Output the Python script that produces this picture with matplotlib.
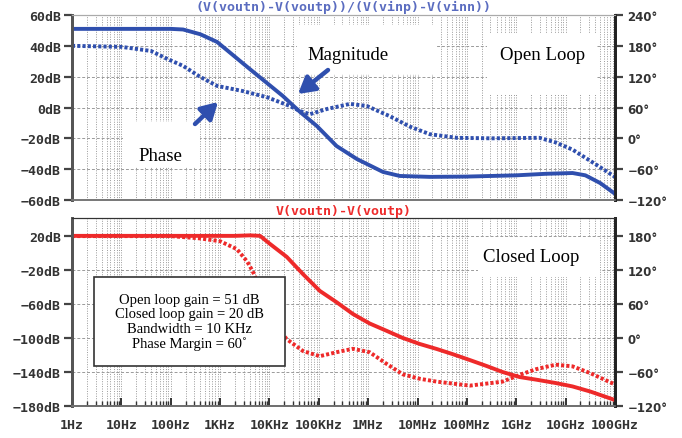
import numpy as np
import matplotlib
matplotlib.use("Agg")
import matplotlib.pyplot as plt
from matplotlib.patches import Rectangle
from matplotlib.ticker import LogLocator, NullFormatter

# frequencies are given as log10(Hz)
ol_mag_dec = [0, 1, 2.0, 2.25, 2.6, 2.94, 3.6, 4.27, 4.62, 4.96, 5.36, 5.77, 6.3, 6.64,
              7.25, 8, 9, 9.6, 10.14, 10.4, 10.7, 11]
ol_mag_db = [51, 51, 51, 50.6, 47.5, 42.5, 25, 7.5, -2.9, -12, -25, -33.4, -41.8, -44.4,
             -45, -44.8, -44, -43, -42.5, -44, -49, -56]

ol_ph_dec = [0, 1.0, 1.23, 1.6, 1.92, 2.25, 2.59, 2.94, 3.46, 3.95, 4.41, 4.62, 4.82,
             5.16, 5.63, 5.97, 6.44, 6.84, 7.25, 7.8, 8.5, 9.47, 9.8, 10.14, 10.6, 11]
ol_ph_deg = [180, 178, 175, 170, 155, 141, 120, 102, 92, 80, 63, 53, 47,
             57, 67, 63, 43, 23, 8, 1, 0, 1, -8, -22, -50, -75]

cl_mag_dec = [0, 2, 3.3, 3.6, 3.81, 4.0, 4.35, 4.68, 5.02, 5.36, 5.69, 6.03, 6.38, 6.7,
              7.04, 7.39, 7.71, 8.06, 8.4, 8.72, 9.07, 9.4, 9.8, 10.14, 10.5, 11]
cl_mag_db = [20, 20, 20, 20.6, 20, 11, -4.7, -25, -44.7, -58, -71.8, -83, -91.8, -100,
             -107, -113, -119, -126, -133, -140, -146, -149, -153, -157, -163, -173]

cl_ph_dec = [0, 2, 2.59, 3.0, 3.34, 3.55, 3.66, 3.9, 4.1, 4.35, 4.68, 5.02, 5.36, 5.69,
             6.03, 6.38, 6.7, 7.05, 7.39, 8.06, 8.72, 9.1, 9.4, 9.8, 10.14, 10.5, 11]
cl_ph_deg = [180, 180, 176, 171, 157, 135, 118, 70, 25, -2, -23, -32, -25, -19,
             -25, -46, -64, -72, -77, -84, -77, -64, -55, -47, -50, -62, -82]

x_ticks = [1, 10, 100, 1e3, 1e4, 1e5, 1e6, 1e7, 1e8, 1e9, 1e10, 1e11]
x_labels = ["1Hz", "10Hz", "100Hz", "1KHz", "10KHz", "100KHz",
            "1MHz", "10MHz", "100MHz", "1GHz", "10GHz", "100GHz"]
top_db_ticks = [60, 40, 20, 0, -20, -40, -60]
top_deg_ticks = [240, 180, 120, 60, 0, -60, -120]
bot_db_ticks = [20, -20, -60, -100, -140, -180]
bot_deg_ticks = [180, 120, 60, 0, -60, -120]

blue = "#2f4fae"
red = "#ee2a2a"
W, H = 682, 439

fig = plt.figure(figsize=(W / 100, H / 100), dpi=100)


def frac(x0, y0, x1, y1):
    # pixel box (top-left origin) -> figure fraction rect
    return [x0 / W, 1 - y1 / H, (x1 - x0) / W, (y1 - y0) / H]


ax1 = fig.add_axes(frac(72, 16, 615, 201))
ax2 = fig.add_axes(frac(72, 219, 615, 407))
ax1r = ax1.twinx()
ax2r = ax2.twinx()

mono = dict(family="DejaVu Sans Mono", weight="bold", size=9.5, color="#333333")
sans = dict(family="DejaVu Sans", weight="bold", size=8.5, color="#333333")
serif = "Liberation Serif"

for ax, axr, dbt, dgt, ylim, ylimr in [
    (ax1, ax1r, top_db_ticks, top_deg_ticks, (-60, 60), (-120, 240)),
    (ax2, ax2r, bot_db_ticks, bot_deg_ticks, (-180, 41), (-120, 212)),
]:
    ax.set_xscale("log")
    ax.set_xlim(1, 1e11)
    ax.set_ylim(*ylim)
    axr.set_ylim(*ylimr)
    ax.set_xticks(x_ticks)
    ax.xaxis.set_minor_locator(LogLocator(base=10, subs=range(2, 10), numticks=30))
    ax.xaxis.set_minor_formatter(NullFormatter())
    ax.set_yticks(dbt)
    ax.set_yticklabels([f"{v}dB".replace("-", "\u2212") for v in dbt], fontdict=mono)
    axr.set_yticks(dgt)
    axr.set_yticklabels([f"{v}\u00b0".replace("-", "\u2212") for v in dgt], fontdict=sans)
    ax.set_axisbelow(True)
    ax.grid(which="major", axis="y", ls=(0, (3, 2)), color="#9a9a9a", lw=0.7)
    ax.grid(which="both", axis="x", ls=(0, (1, 1.5)), color="#9a9a9a", lw=0.7)
    ax.tick_params(axis="y", direction="out", length=6, width=1.6, color="#444444", pad=2)
    axr.tick_params(axis="y", direction="out", length=6, width=1.6, color="#444444", pad=3)
    for a in (ax, axr):
        a.spines["left"].set_linewidth(2)
        a.spines["left"].set_color("#555555")
        a.spines["right"].set_linewidth(2)
        a.spines["right"].set_color("#222222")
        a.spines["top"].set_color("#aaaaaa")
        a.spines["bottom"].set_color("#777777")
        a.spines["bottom"].set_linewidth(1.2)

ax1.tick_params(axis="x", which="both", bottom=False, labelbottom=False)
ax2.tick_params(axis="x", which="major", direction="in", length=6, width=1.4,
                color="#333333", pad=9)
ax2.tick_params(axis="x", which="minor", direction="in", length=3.5, width=1.0,
                color="#333333")
ax2.set_xticklabels(x_labels, fontdict=mono)
ax2.spines["top"].set_color("#333333")
ax2r.spines["top"].set_color("#333333")
ax2.spines["bottom"].set_color("#333333")

# white patches behind the hand-added labels
for (x0, y0, x1, y1), ax in [((297, 26, 437, 75), ax1), ((487, 35, 597, 95), ax1),
                             ((123, 123, 200, 168), ax1), ((478, 238, 600, 278), ax2)]:
    ax.add_patch(Rectangle((x0 / W, 1 - y1 / H), (x1 - x0) / W, (y1 - y0) / H,
                           transform=fig.transFigure, facecolor="white",
                           edgecolor="none", zorder=1))

dots = (0, (0.8, 0.55))
ax1.plot(np.power(10.0, ol_mag_dec), ol_mag_db, color=blue, lw=2.8, zorder=3)
ax1r.plot(np.power(10.0, ol_ph_dec), ol_ph_deg, color=blue, lw=2.8, ls=dots)
ax2.plot(np.power(10.0, cl_mag_dec), cl_mag_db, color=red, lw=2.8, zorder=3)
ax2r.plot(np.power(10.0, cl_ph_dec), cl_ph_deg, color=red, lw=2.8, ls=dots)

fig.text(343.5 / W, 1 - 7 / H, "(V(voutn)-V(voutp))/(V(vinp)-V(vinn))",
         ha="center", va="center", family="DejaVu Sans Mono", weight="bold",
         size=9.5, color="#5a6cc0")
fig.text(343.5 / W, 1 - 211 / H, "V(voutn)-V(voutp)", ha="center", va="center",
         family="DejaVu Sans Mono", weight="bold", size=9.5, color=red)

fig.text(348 / W, 1 - 55 / H, "Magnitude", ha="center", va="center", family=serif, size=13.5)
fig.text(543 / W, 1 - 55 / H, "Open Loop", ha="center", va="center", family=serif, size=13.5)
fig.text(160 / W, 1 - 157 / H, "Phase", ha="center", va="center", family=serif, size=13.5)
fig.text(531 / W, 1 - 258 / H, "Closed Loop", ha="center", va="center", family=serif, size=13.5)

arrow = dict(arrowstyle="-|>,head_length=0.7,head_width=0.4", color=blue, lw=3.2,
             mutation_scale=14, shrinkA=0, shrinkB=0)
ax1r.annotate("", xy=(298, H - 95), xytext=(328, H - 71), xycoords="figure pixels",
              textcoords="figure pixels", arrowprops=arrow)
ax1r.annotate("", xy=(218, H - 103), xytext=(195, H - 125), xycoords="figure pixels",
              textcoords="figure pixels", arrowprops=arrow)

# info box on the closed loop plot
ax2r.add_patch(Rectangle((94 / W, 1 - 367 / H), 191 / W, 89 / H, transform=fig.transFigure,
                         facecolor="white", edgecolor="#333333", lw=1.2, zorder=5))
ax2r.text(189.5 / W, 1 - 322.5 / H,
          "Open loop gain = 51 dB\nClosed loop gain = 20 dB\n"
          "Bandwidth = 10 KHz\nPhase Margin = 60\u02da",
          transform=fig.transFigure, ha="center", va="center", family=serif,
          size=10.5, linespacing=1.15, zorder=6)

fig.savefig("out.png", dpi=100)
